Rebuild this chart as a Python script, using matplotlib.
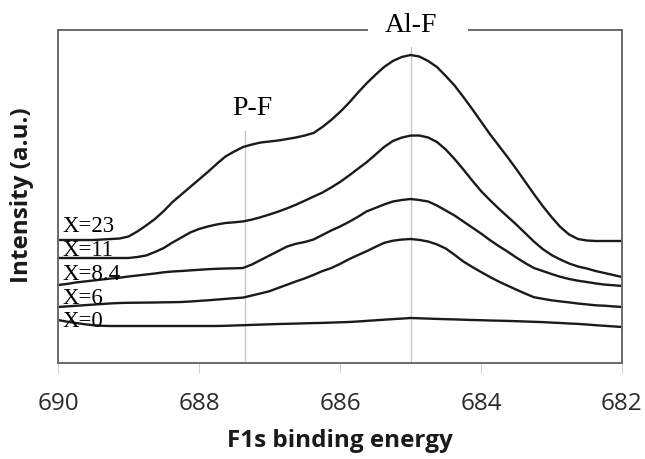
import matplotlib.pyplot as plt

# F1s XPS spectra, binding energy in eV (arbitrary intensity units)
energy = [690.0, 689.875, 689.75, 689.625, 689.5, 689.375, 689.25, 689.125,
          689.0, 688.875, 688.75, 688.625, 688.5, 688.375, 688.25, 688.125,
          688.0, 687.875, 687.75, 687.625, 687.5, 687.375, 687.25, 687.125,
          687.0, 686.875, 686.75, 686.625, 686.5, 686.375, 686.25, 686.125,
          686.0, 685.875, 685.75, 685.625, 685.5, 685.375, 685.25, 685.125,
          685.0, 684.875, 684.75, 684.625, 684.5, 684.375, 684.25, 684.125,
          684.0, 683.875, 683.75, 683.625, 683.5, 683.375, 683.25, 683.125,
          683.0, 682.875, 682.75, 682.625, 682.5, 682.375, 682.25, 682.125,
          682.0]

x23 = [123, 123, 123, 123, 123, 123.5, 124, 124.5, 126.5, 131.5, 137.5, 144,
       152, 161, 168.5, 176, 183.5, 191, 199, 206.5, 211.5, 216, 218.5, 220.5,
       221.5, 222.5, 224, 225.5, 227.5, 230, 236, 243, 251, 260, 270, 279.5,
       288, 296, 302, 306, 308, 306.5, 302, 296, 287, 277.5, 266, 254, 241.5,
       229, 217.5, 206, 194, 181.5, 169, 157, 146, 136, 128.5, 124, 122.5, 122,
       122, 122, 122]
x11 = [105, 105, 105, 105, 105, 105, 105, 105, 105, 106, 107.5, 111, 115, 120.5,
       125.5, 130.5, 134, 136.5, 138.5, 140, 140.7, 141.6, 143.4, 145.8, 148.5,
       151.4, 154.7, 158.3, 162.3, 166.4, 170.4, 175.5, 181, 187.3, 194, 200.6,
       208.2, 216, 222, 225.4, 227.4, 227.5, 225.5, 221, 213.5, 204, 193.5,
       182.5, 172, 163, 154.5, 146.5, 138.5, 130, 121.5, 114, 108, 103.5, 99.5,
       96.5, 94.5, 92, 90, 88, 86]
x8_4 = [78, 79, 80.5, 81.5, 82.5, 83.5, 84.5, 85.3, 86.5, 87.5, 88.5, 89.5, 90.7,
        91.5, 92, 92.6, 93.2, 93.8, 94.2, 94.5, 94.7, 95, 98.5, 103, 107.5, 112,
        116.5, 119.2, 121, 123.5, 128, 132.5, 136.5, 141, 146, 151.5, 155, 158.5,
        161.5, 163, 164, 163, 161.5, 157.5, 152.5, 147.5, 141.5, 135.5, 129.5,
        123, 117, 111.5, 105.5, 100, 95, 92, 89, 86.2, 84, 82.3, 81, 79.6, 78.4,
        77.8, 77]
x6 = [56, 56.6, 57.2, 57.8, 58.4, 59, 59.6, 60, 60.2, 60.3, 60.4, 60.5, 60.7,
      60.8, 61, 61.5, 62.1, 62.7, 63.4, 64.1, 64.8, 65.4, 67.5, 69.6, 71.8, 75.1,
      78.3, 81.6, 84.6, 88.1, 91.9, 94.9, 99.1, 103.7, 107.8, 111.7, 116, 120.1,
      122.3, 123.4, 124, 123.1, 121.5, 118.6, 114.5, 108.2, 101.5, 96.1, 91,
      86.1, 81.5, 77.4, 73.4, 69.5, 65.8, 64.2, 62.7, 61.6, 60.6, 59.5, 58.6,
      57.7, 57.3, 56.6, 56]
x0 = [43, 41.4, 40, 38.8, 37.8, 37.2, 37, 37, 37, 37, 37, 37, 37, 37, 37, 37, 37,
      37, 37, 37.2, 37.5, 37.8, 38.1, 38.4, 38.7, 39, 39.2, 39.4, 39.7, 39.9,
      40.1, 40.4, 40.7, 41, 41.5, 42.1, 42.7, 43.3, 43.9, 44.4, 45, 44.7, 44.4,
      44.1, 43.8, 43.6, 43.3, 43, 42.8, 42.5, 42.3, 42.1, 41.8, 41.5, 41.2, 40.9,
      40.4, 40, 39.5, 39.1, 38.5, 37.8, 37.2, 36.6, 36]

series = [x23, x11, x8_4, x6, x0]
labels = ["X=23", "X=11", "X=8.4", "X=6", "X=0"]
label_y = [131, 107, 83, 59, 36]

# peak assignments
peak_names = ["P-F", "Al-F"]
peak_pos = [687.35, 685.0]
peak_line_top = [232, 316]
peak_text_x = [687.25, 685.0]
peak_text_y = [248, 331]

fig = plt.figure(figsize=(6.45, 4.59), dpi=100)
ax = fig.add_axes([58 / 645, 96 / 459, 564 / 645, 333 / 459])

for top, pos in zip(peak_line_top, peak_pos):
    ax.plot([pos, pos], [0, top], color="#c4c4c4", lw=0.9, zorder=1)

for y in series:
    ax.plot(energy, y, color="#1a1a1a", lw=1.7, zorder=2,
            solid_joinstyle="round", solid_capstyle="butt")

for lab, ly in zip(labels, label_y):
    ax.text(689.94, ly, lab, fontsize=16.5, family="Liberation Serif",
            ha="left", va="baseline", zorder=3)

for name, tx, ty in zip(peak_names, peak_text_x, peak_text_y):
    ax.text(tx, ty, name, fontsize=20, family="Liberation Serif",
            ha="center", va="baseline")

ax.set_xlim(690, 682)
ax.set_ylim(0, 333)
ax.set_xticks([690, 688, 686, 684, 682])
ax.set_yticks([])

for side in ["left", "bottom", "right"]:
    ax.spines[side].set_color("#6a6a6a")
    ax.spines[side].set_linewidth(1.4)
ax.spines["top"].set_visible(False)

# top frame interrupted around the Al-F label
for seg in ([0, 0.55], [0.727, 1]):
    ax.plot(seg, [1, 1], transform=ax.transAxes, color="#6a6a6a", lw=1.4,
            clip_on=False, solid_capstyle="butt")

ax.tick_params(axis="x", length=7, width=0.8, color="#d0d0d0", pad=14,
               labelsize=17.5, labelcolor="#2a2a2a")
for t in ax.get_xticklabels():
    t.set_family("Open Sans")

ax.set_xlabel("F1s binding energy", fontsize=17.5, fontweight="bold",
              family="Open Sans", color="#1a1a1a", labelpad=9)
ax.set_ylabel("Intensity (a.u.)", fontsize=17.5, fontweight="bold",
              family="Open Sans", color="#1a1a1a")
ax.yaxis.set_label_coords(-0.043, 0.505)

fig.savefig("out.png", dpi=100)
